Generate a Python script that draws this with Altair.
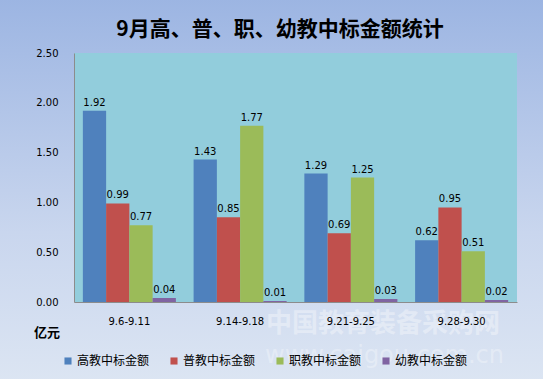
import altair as alt
import pandas as pd

periods = ["9.6-9.11", "9.14-9.18", "9.21-9.25", "9.28-9.30"]
series = ["高教中标金额", "普教中标金额", "职教中标金额", "幼教中标金额"]
gao = [1.92, 1.43, 1.29, 0.62]
pu = [0.99, 0.85, 0.69, 0.95]
zhi = [0.77, 1.77, 1.25, 0.51]
you = [0.04, 0.01, 0.03, 0.02]
colors = ["#4F81BD", "#C0504D", "#9BBB59", "#8064A2"]
y_ticks = [0, 0.5, 1.0, 1.5, 2.0, 2.5]

rows = []
for s, vals in zip(series, [gao, pu, zhi, you]):
    for p, v in zip(periods, vals):
        rows.append({"period": p, "series": s, "value": v})
df = pd.DataFrame(rows)

W, H = 443, 249
FONT = "Noto Sans CJK SC"
one = alt.Data(values=[{}])

bg = alt.Chart(one).mark_rect(
    fill=alt.Gradient(gradient="linear", x1=0, x2=0, y1=0, y2=1,
                      stops=[alt.GradientStop(offset=0, color="#9BB4E2"),
                             alt.GradientStop(offset=0.6, color="#C9D6EE"),
                             alt.GradientStop(offset=1, color="#DDE6F3")])
).encode(x=alt.value(-80), x2=alt.value(W + 40), y=alt.value(-60), y2=alt.value(H + 90))

plotbg = alt.Chart(one).mark_rect(fill="#92CDDC").encode(
    x=alt.value(0), x2=alt.value(W), y=alt.value(0), y2=alt.value(H))

watermark = alt.Chart(one).mark_text(
    text="中国教育装备采购网", font=FONT, fontSize=26, fontWeight="bold",
    color="white", opacity=0.35, align="left"
).encode(x=alt.value(192), y=alt.value(H + 22))
watermark2 = alt.Chart(one).mark_text(
    text="www.caigou.com.cn", font="DejaVu Sans", fontSize=24,
    color="white", opacity=0.3, align="left"
).encode(x=alt.value(191), y=alt.value(H + 54))

xenc = alt.X("period:N", sort=periods, title=None,
             scale=alt.Scale(paddingInner=0.16, paddingOuter=0.08),
             axis=alt.Axis(labelAngle=0, ticks=False, domainColor="#8C8C8C",
                           labelPadding=14, labelFont="DejaVu Sans",
                           labelFontSize=10, labelColor="#000000", zindex=2))
xoff = alt.XOffset("series:N", sort=series, scale=alt.Scale(paddingInner=0))
yenc = alt.Y("value:Q", title=None,
             scale=alt.Scale(domain=[0, 2.5], nice=False),
             axis=alt.Axis(values=y_ticks, format=".2f", grid=False, ticks=False,
                           domainColor="#8C8C8C", labelPadding=16,
                           labelFont="DejaVu Sans", labelFontSize=10,
                           labelColor="#000000", zindex=2))

bars = alt.Chart(df).mark_bar().encode(
    x=xenc, xOffset=xoff, y=yenc,
    color=alt.Color("series:N", sort=series,
                    scale=alt.Scale(domain=series, range=colors),
                    legend=alt.Legend(title=None, orient="none", direction="horizontal",
                                      legendX=-12, legendY=H + 53, columns=4,
                                      symbolType="square", symbolSize=50,
                                      symbolStrokeWidth=0, labelFont=FONT,
                                      labelFontSize=12, labelColor="#000000",
                                      columnPadding=18, labelOffset=3,
                                      labelLimit=200, zindex=2))
)

labels = alt.Chart(df).mark_text(
    dy=-8, font="DejaVu Sans", fontSize=10, color="#000000"
).encode(x=xenc, xOffset=xoff, y=yenc, text=alt.Text("value:Q", format=".2f"))

title = alt.Chart(one).mark_text(
    text="9月高、普、职、幼教中标金额统计", font=FONT, fontSize=21,
    fontWeight="bold", color="#000000"
).encode(x=alt.value(206), y=alt.value(-23))

unit = alt.Chart(one).mark_text(
    text="亿元", font=FONT, fontSize=13, fontWeight="bold", color="#000000"
).encode(x=alt.value(-27), y=alt.value(H + 31))

chart = alt.layer(bg, plotbg, watermark, watermark2, bars, labels, title, unit).properties(
    width=W, height=H,
    autosize=alt.AutoSizeParams(type="none"),
    padding={"left": 74, "top": 53, "right": 26, "bottom": 77},
    background="#DDE6F3"
).configure_view(stroke=None)

chart.save("out.html", embed_options={"renderer": "svg", "actions": False})
